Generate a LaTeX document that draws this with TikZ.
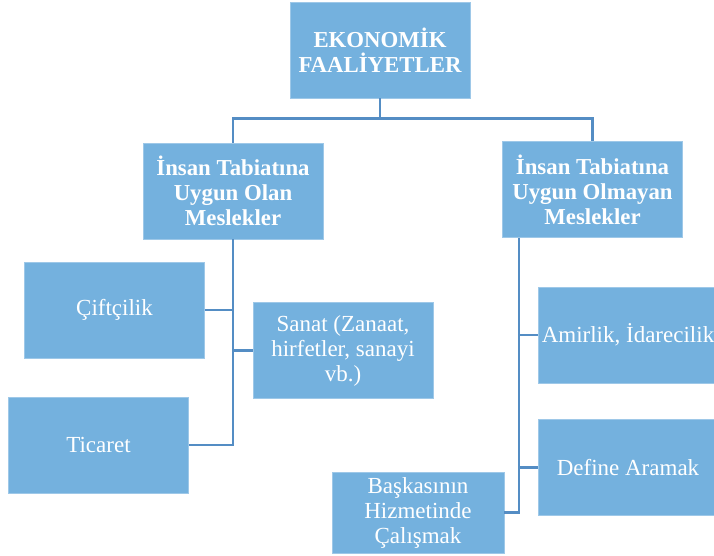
\documentclass[tikz,border=0pt]{standalone}
\usepackage{fontspec}
\setmainfont{Liberation Serif}
\usepackage{tikz}
\usetikzlibrary{ % tikz packages
    positioning
}
\definecolor{boxblue}{RGB}{116,177,222}
\definecolor{lineblue}{RGB}{84,141,196}
\tikzset{box/.style={
    rectangle,
    fill=boxblue,
    draw=boxblue!70!white,
    line width=0.8pt,
    minimum width=180pt,
    minimum height=96pt,
    align=center,
    text=white,
    font=\fontsize{23}{25}\selectfont
}}
\tikzset{headbox/.style={
    box,
    font=\bfseries\fontsize{22.8}{25}\selectfont
}}
\tikzset{link/.style={
    draw=lineblue,
    line width=2.4pt
}}

\begin{document}
\begin{tikzpicture}[x=1pt,y=-1pt,on grid]
        \useasboundingbox (0,0) rectangle (714,556);

        \node[headbox] (eko) at (380,50) {EKONOMİK\\FAALİYETLER};

        \node[headbox] (olan) [below left=141pt and 147pt of eko]
            {İnsan Tabiatına\\Uygun Olan\\Meslekler};
        \node[headbox] (olmayan) [below right=139.5pt and 212.5pt of eko]
            {İnsan Tabiatına\\Uygun Olmayan\\Meslekler};

        \node[box] (cift) [below left=119pt and 118.5pt of olan] {Çiftçilik};
        \node[box] (sanat) [below right=159.5pt and 110pt of olan]
            {Sanat (Zanaat,\\hirfetler, sanayi\\vb.)};
        \node[box] (ticaret) [below left=135pt and 16pt of cift] {Ticaret};

        \node[box] (amir) [below right=145.5pt and 35.5pt of olmayan]
            {Amirlik, İdarecilik};
        \node[box] (define) [below=132.5pt of amir] {Define Aramak};
        \node[box, minimum width=172pt, minimum height=81pt] (baska)
            [below left=45pt and 210pt of define]
            {Başkasının\\Hizmetinde\\Çalışmak};

        \coordinate (rtrunk) at ([xshift=17pt]olmayan.south west);

        \path[link]
            (eko.south) -- ++(0,20) -| (olan.north)
            (eko.south) -- ++(0,20) -| (olmayan.north)
            (olan.south) |- (ticaret.east)
            (cift.east) -- (cift.east -| olan.south)
            (sanat.west) -- (sanat.west -| olan.south)
            (rtrunk) |- (baska.east)
            (amir.west) -- (amir.west -| rtrunk)
            (define.west) -- (define.west -| rtrunk);
    \end{tikzpicture}
\end{document}
